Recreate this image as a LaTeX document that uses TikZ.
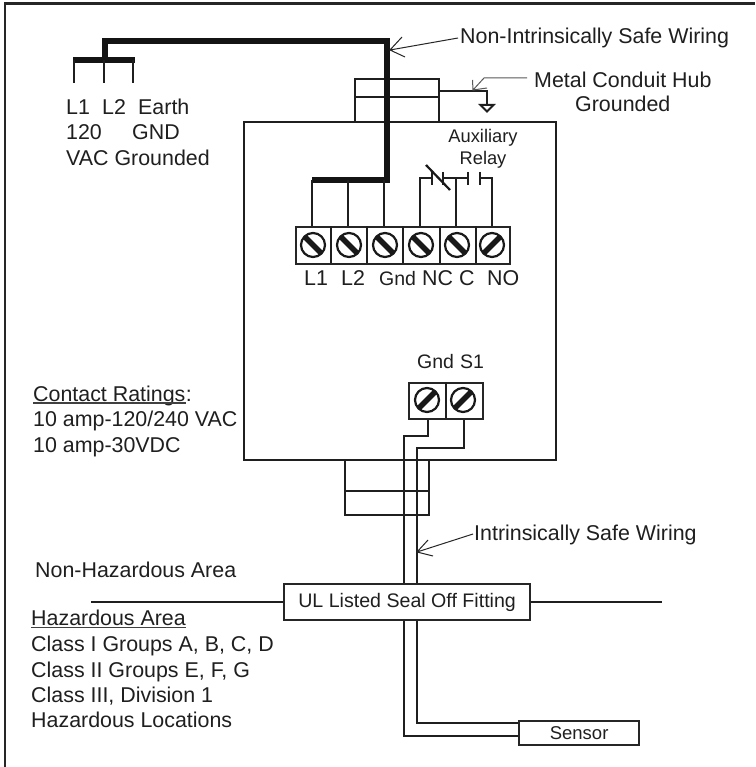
\documentclass[tikz,border=0pt]{standalone}
\usepackage{fontspec}
\setmainfont{Liberation Sans}
\tikzset{
  x=1pt,y=-1pt,
  wire/.style={line width=2pt,draw=black!88},
  power/.style={line width=6pt,draw=black!92},
  thin arrow/.style={line width=1pt,draw=black!85},
  boxed/.style={line width=2.2pt,draw=black!85,fill=white},
  lab/.style={inner sep=0pt,font=\fontsize{21.4}{22}\selectfont,text=black!88},
  labl/.style={lab,anchor=base west},
  labc/.style={lab,anchor=base},
  uline/.style={line width=1.3pt,draw=black!75},
  screw/.style={circle,draw=black!90,line width=2.2pt,minimum size=24pt,inner sep=0pt,fill=white},
}
\newcommand{\backscrew}[2]{%
  \node[screw] (#1) at #2 {};
  \draw[line width=5.5pt,black!90] ([shift={(-8.5,-8.5)}]#1.center) -- ([shift={(8.5,8.5)}]#1.center);}
\newcommand{\fwdscrew}[2]{%
  \node[screw] (#1) at #2 {};
  \draw[line width=5.5pt,black!90] ([shift={(-8.5,8.5)}]#1.center) -- ([shift={(8.5,-8.5)}]#1.center);}
\begin{document}
\begin{tikzpicture}
\useasboundingbox (0,0) rectangle (755,767);
\fill[white] (0,0) rectangle (755,767);
\draw[line width=2.6pt,black!85] (5,767) -- (5,3.7) -- (755,3.7);

% enclosure and hubs
\coordinate (encTL) at (244,122); \coordinate (encBR) at (556,460);
\draw[wire] (encTL) rectangle (encBR);
\draw[wire] (355,122) |- (439,79) -- (439,122);
\draw[wire] (355,97) -- (439,97);
\draw[wire] (345,460) |- (429,515) -- (429,460);
\draw[wire] (345,491) -- (429,491);

% ground
\coordinate (gA) at (439,91); \coordinate (gB) at (487,91); \coordinate (gC) at (487,105);
\draw[wire] (gA) -- (gB) -- (gC);
\draw[wire] (480.5,105) -- (493.5,105) -- (487,111.5) -- cycle;

% power wiring
\coordinate (p1) at (105,41); \coordinate (p2) at (387,41); \coordinate (p3) at (387,180);
\coordinate (p4) at (312,180);
\coordinate (b2) at (105,60);
\draw[power,line cap=butt] (b2) -- (p1) -- (p2) -- (p3) -- (p4);
\draw[power] (73,60) -- (135,60);
\draw[wire] (74,60) -- (74,83);
\draw[wire] (104,60) -- (104,83);
\draw[wire] (133,60) -- (133,83);
\draw[wire] (312,180) -- (312,226);
\draw[wire] (348,180) -- (348,226);
\draw[wire] (384,180) -- (384,226);

% relay
\draw[wire] (420,226) |- (432,178);
\draw[wire] (432,172) -- (432,185);
\draw[wire] (443,172) -- (443,185);
\draw[wire] (443,178) -- (468,178);
\draw[wire] (468,172) -- (468,185);
\draw[wire] (480,172) -- (480,185);
\draw[wire] (480,178) -| (492,226);
\draw[wire] (456,178) -- (456,226);
\draw[line width=2.2pt,black!90] (426,165) -- (450,190);

% terminal block top
\node[boxed,draw,minimum width=214pt,minimum height=37pt,anchor=north west,inner sep=0pt] (tb) at (295,226) {};
\foreach \xx in {331,367,403,440,476} \draw[wire] (\xx,226) -- (\xx,263);
\backscrew{s1}{(313,245)}
\backscrew{s2}{(349,245)}
\backscrew{s3}{(385,245)}
\backscrew{s4}{(421,245)}
\backscrew{s5}{(457,245)}
\fwdscrew{s6}{(492,245)}

% intrinsically safe wires
\draw[wire] (428,418) -- (428,436) -- (404,436) -- (404,736) -- (518,736);
\draw[wire] (464,418) -- (464,448) -- (417,448) -- (417,723) -- (518,723);

% terminal block bottom
\node[boxed,draw,minimum width=74pt,minimum height=36pt,anchor=north west,inner sep=0pt] (tb2) at (408,382) {};
\draw[wire] (446,382) -- (446,418);
\fwdscrew{s7}{(427,400)}
\fwdscrew{s8}{(463,400)}

% hazard line and fitting
\coordinate (hl) at (91,602); \coordinate (hr) at (662,602);
\draw[wire] (hl) -- (hr);
\node[boxed,draw,minimum width=246pt,minimum height=36pt,anchor=north west,inner sep=0pt,lab] (seal) at (283,583) {\fontsize{19.6}{20}\selectfont UL Listed Seal Off Fitting};
\node[boxed,draw,minimum width=120pt,minimum height=24pt,anchor=north west,inner sep=0pt,lab] (sensor) at (518,720) {\fontsize{18.5}{19}\selectfont Sensor};

% pointers
\coordinate (n1) at (458,38); \coordinate (n2) at (390,50);
\draw[thin arrow] (n1) -- (n2) (402,37) -- (n2) -- (405,57);
\coordinate (m1) at (527,78); \coordinate (m2) at (484,78); \coordinate (m3) at (473,90);
\draw[thin arrow,black!65] (m1) -- (m2) -- (m3) (472.5,80) -- (m3) -- (487,88);
\coordinate (i1) at (473,534); \coordinate (i2) at (417,552);
\draw[thin arrow] (i1) -- (i2) (428,540) -- (i2) -- (433,556);

% labels
\node[labl] (t1) at (460,44) {Non-Intrinsically Safe Wiring};
\node[labl] (t2) at (534,88) {Metal Conduit Hub};
\node[labl] (t3) at (575,112) {Grounded};
\node[labl] (a1) at (66,115) {L1};
\node[labl] (a2) at (102,115) {L2};
\node[labl] (a3) at (138,115) {Earth};
\node[labl] (a4) at (66,140) {120};
\node[labl] (a5) at (132,140) {GND};
\node[labl] (a6) at (66,166) {VAC Grounded};
\node[labc,font=\fontsize{18.3}{19}\selectfont] (r1) at (483,143) {Auxiliary};
\node[labc,font=\fontsize{18.3}{19}\selectfont] (r2) at (483,165) {Relay};
\node[labl] (c1) at (304,285) {L1};
\node[labl] (c2) at (341,285) {L2};
\node[labl,font=\fontsize{19.5}{20}\selectfont] (c3) at (379,285) {Gnd};
\node[labl] (c4) at (422,285) {NC};
\node[labl] (c5) at (459,285) {C};
\node[labl] (c6) at (487,285) {NO};
\node[labl,font=\fontsize{19.5}{20}\selectfont] (g1) at (417,368) {Gnd};
\node[labl,font=\fontsize{19.5}{20}\selectfont] (g2) at (460,368) {S1};
\node[labl] (k1) at (33,401) {Contact Ratings};
\node[labl] (k1c) at (k1.base east) {:};
\draw[uline] ([yshift=-2pt]k1.base west) -- ([yshift=-2pt]k1.base east);
\node[labl] (k2) at (33,426) {10 amp-120/240 VAC};
\node[labl] (k3) at (33,452) {10 amp-30VDC};
\node[labl] (w1) at (474,540) {Intrinsically Safe Wiring};
\node[labl] (h0) at (35,577) {Non-Hazardous Area};
\node[labl] (h1) at (31,625) {Hazardous Area};
\draw[uline] ([yshift=-2.5pt]h1.base west) -- ([yshift=-2.5pt]h1.base east);
\node[labl] (h2) at (31,651) {Class I Groups A, B, C, D};
\node[labl] (h3) at (31,677) {Class II Groups E, F, G};
\node[labl] (h4) at (31,702) {Class III, Division 1};
\node[labl] (h5) at (31,727) {Hazardous Locations};
\end{tikzpicture}
\end{document}
